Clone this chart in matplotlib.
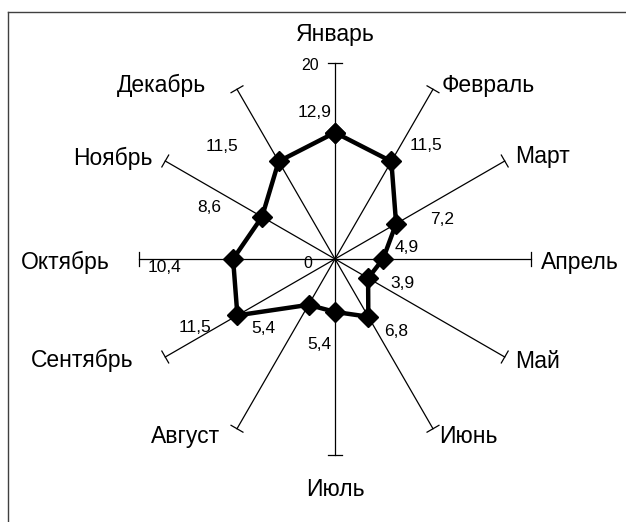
import numpy as np
import matplotlib
matplotlib.use('Agg')
import matplotlib.pyplot as plt
from matplotlib.lines import Line2D

plt.rcParams['font.family'] = ['Liberation Sans', 'DejaVu Sans']

months = ['Январь', 'Февраль', 'Март', 'Апрель', 'Май', 'Июнь',
          'Июль', 'Август', 'Сентябрь', 'Октябрь', 'Ноябрь', 'Декабрь']
values = [12.9, 11.5, 7.2, 4.9, 3.9, 6.8, 5.4, 5.4, 11.5, 10.4, 8.6, 11.5]
value_labels = ['12,9', '11,5', '7,2', '4,9', '3,9', '6,8',
                '5,4', '5,4', '11,5', '10,4', '8,6', '11,5']
r_max = 20
r_ticks = [0, 20]

# label offsets in pixels (x right, y up)
month_off = [(0, 28), (55, 4), (38, 4), (49, -3), (33, -5), (35, -8),
             (0, -35), (-51, -8), (-83, -3), (-74, -3), (-52, 3), (-75, 4)]
value_off = [(-20, 20), (35, 16), (46, 4), (24, 12), (34, -5), (28, -15),
             (-16, -33), (-45, -24), (-42, -12), (-69, -9), (-53, 9), (-57, 15)]

W, H = 626, 522
cx, cy = 335, 259          # centre in pixels from top-left
scale = 196 / r_max        # pixels per unit

fig = plt.figure(figsize=(W / 100, H / 100), dpi=100)
ax = fig.add_axes([0, 0, 1, 1])
ax.set_xlim(-cx / scale, (W - cx) / scale)
ax.set_ylim(-(H - cy) / scale, cy / scale)
ax.axis('off')

# frame (only top and left edges visible)
fig.add_artist(Line2D([8 / W, 1], [1 - 12 / H, 1 - 12 / H], color='#404040', lw=1))
fig.add_artist(Line2D([8 / W, 8 / W], [0, 1 - 12 / H], color='#404040', lw=1))

theta = np.arange(len(months)) * 2 * np.pi / len(months)
sx, sy = np.sin(theta), np.cos(theta)

cap = 0.7
for i in range(len(months)):
    ex, ey = r_max * sx[i], r_max * sy[i]
    ax.plot([0, ex], [0, ey], color='black', lw=0.9, zorder=1)
    px, py = sy[i] * cap, -sx[i] * cap
    ax.plot([ex - px, ex + px], [ey - py, ey + py], color='black', lw=0.9, zorder=1)
    ax.annotate(months[i], (ex, ey), xytext=month_off[i], textcoords='offset pixels',
                ha='center', va='center', fontsize=16.5)

# value axis labels on the top axis
ax.annotate(str(r_ticks[1]), (0, r_max), xytext=(-25, -2), textcoords='offset pixels',
            ha='center', va='center', fontsize=11.5)
ax.annotate(str(r_ticks[0]), (0, 0), xytext=(-27, -4), textcoords='offset pixels',
            ha='center', va='center', fontsize=11.5)

v = np.array(values)
x = np.append(v * sx, v[0] * sx[0])
y = np.append(v * sy, v[0] * sy[0])
ax.plot(x, y, color='black', lw=3.2, marker='D', ms=10, mec='black', mfc='black',
        zorder=3, solid_joinstyle='miter')

for i, lab in enumerate(value_labels):
    ax.annotate(lab, (values[i] * sx[i], values[i] * sy[i]), xytext=value_off[i],
                textcoords='offset pixels', ha='center', va='center', fontsize=12.5)

fig.savefig('out.png', dpi=100)
